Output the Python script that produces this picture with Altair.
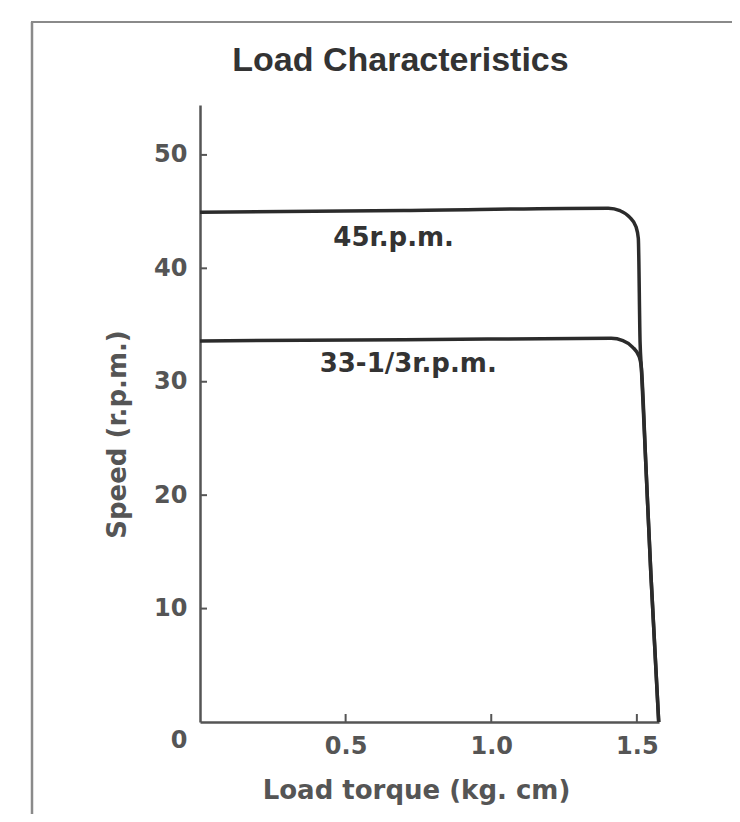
import altair as alt
import pandas as pd

# ---- data ----
torque_45 = [0.0, 0.70, 1.402, 1.442, 1.475, 1.497, 1.505, 1.511, 1.5155, 1.531, 1.548, 1.575]
speed_45 = [44.95, 45.1, 45.3, 45.08, 44.51, 43.66, 42.64, 33.5, 31.2, 22.6, 13.1, 0.0]

torque_33 = [0.0, 0.70, 1.412, 1.452, 1.485, 1.508, 1.5155, 1.531, 1.548, 1.575]
speed_33 = [33.6, 33.7, 33.83, 33.63, 33.06, 32.2, 31.2, 22.6, 13.1, 0.0]

label_text = ["45r.p.m.", "33-1/3r.p.m."]
label_x = [0.665, 0.715]
label_y = [42.7, 31.6]

x_ticks = [0.5, 1.0, 1.5]
y_ticks = [0, 10, 20, 30, 40, 50]
y_tick_marks = [10, 20, 30, 40, 50]

X_MAX = 1.576
Y_MAX = 54.4
W, H = 459, 617

curves = pd.concat([
    pd.DataFrame({"torque": torque_45, "speed": speed_45, "series": "45", "i": range(len(torque_45))}),
    pd.DataFrame({"torque": torque_33, "speed": speed_33, "series": "33", "i": range(len(torque_33))}),
])
labels = pd.DataFrame({"text": label_text, "torque": label_x, "speed": label_y})

AXIS_COLOR = "#555555"
FONT = "DejaVu Sans"

x_scale = alt.Scale(domain=[0, X_MAX], nice=False, zero=True)
y_scale = alt.Scale(domain=[0, Y_MAX], nice=False, zero=True)

x_axis = alt.Axis(
    values=x_ticks, format=".1f", ticks=False, grid=False,
    domainColor=AXIS_COLOR, domainWidth=2.5,
    labelFont=FONT, labelFontSize=24, labelFontWeight="bold", labelColor=AXIS_COLOR,
    labelPadding=12,
    title="Load torque (kg. cm)", titleFont=FONT, titleFontSize=26, titleFontWeight="bold",
    titleColor=AXIS_COLOR, titleX=216, titleY=68, titleAlign="center", titleBaseline="middle",
)
y_axis = alt.Axis(
    values=y_ticks, format="d", ticks=False, grid=False,
    domainColor=AXIS_COLOR, domainWidth=2.5,
    labelFont=FONT, labelFontSize=24, labelFontWeight="bold", labelColor=AXIS_COLOR,
    labelPadding=13, labelBaseline="middle",
    labelOffset={"condition": {"test": "datum.value == 0", "value": 18}, "value": 0},
    title="Speed (r.p.m.)", titleFont=FONT, titleFontSize=26, titleFontWeight="bold",
    titleColor=AXIS_COLOR, titleX=-83, titleY=329, titleAngle=270,
    titleAlign="center", titleBaseline="middle",
)

lines = alt.Chart(curves).mark_line(
    color="#2b2b2b", strokeWidth=3.5, interpolate="monotone", strokeJoin="round"
).encode(
    x=alt.X("torque:Q", scale=x_scale, axis=x_axis),
    y=alt.Y("speed:Q", scale=y_scale, axis=y_axis),
    detail="series:N",
    order="i:Q",
)

texts = alt.Chart(labels).mark_text(
    font=FONT, fontSize=26, fontWeight="bold", color="#333333", align="center", baseline="middle"
).encode(
    x=alt.X("torque:Q", scale=x_scale),
    y=alt.Y("speed:Q", scale=y_scale),
    text="text:N",
)

ytick_layer = alt.Chart(pd.DataFrame({"v": y_tick_marks})).mark_rule(
    color=AXIS_COLOR, strokeWidth=2
).encode(
    y=alt.Y("v:Q", scale=y_scale),
    x=alt.value(0), x2=alt.value(7),
)

xtick_layer = alt.Chart(pd.DataFrame({"v": x_ticks})).mark_rule(
    color=AXIS_COLOR, strokeWidth=2
).encode(
    x=alt.X("v:Q", scale=x_scale),
    y=alt.value(H), y2=alt.value(H - 8),
)

frame_data = alt.Data(values=[{"k": 1}])
frame_top = alt.Chart(frame_data).mark_rule(color="#8a8a8a", strokeWidth=2).encode(
    x=alt.value(-169), x2=alt.value(540), y=alt.value(-83)
)
frame_left = alt.Chart(frame_data).mark_rule(color="#8a8a8a", strokeWidth=2.5).encode(
    x=alt.value(-168), y=alt.value(-83), y2=alt.value(710)
)

chart = alt.layer(
    frame_top, frame_left, ytick_layer, xtick_layer, lines, texts
).properties(
    width=W, height=H,
    title=alt.TitleParams(
        "Load Characteristics", font="Liberation Sans", fontSize=34, fontWeight="bold",
        color="#333333", anchor="middle", frame="group", dx=-29, offset=-84,
        baseline="alphabetic",
    ),
    autosize=alt.AutoSizeParams(type="none"),
    padding={"left": 192, "top": 97, "right": 73, "bottom": 92},
).configure(
    background="white",
    view=alt.ViewConfig(strokeWidth=0, stroke="transparent"),
)

chart.save("out.html", embed_options={"renderer": "svg", "actions": False})
